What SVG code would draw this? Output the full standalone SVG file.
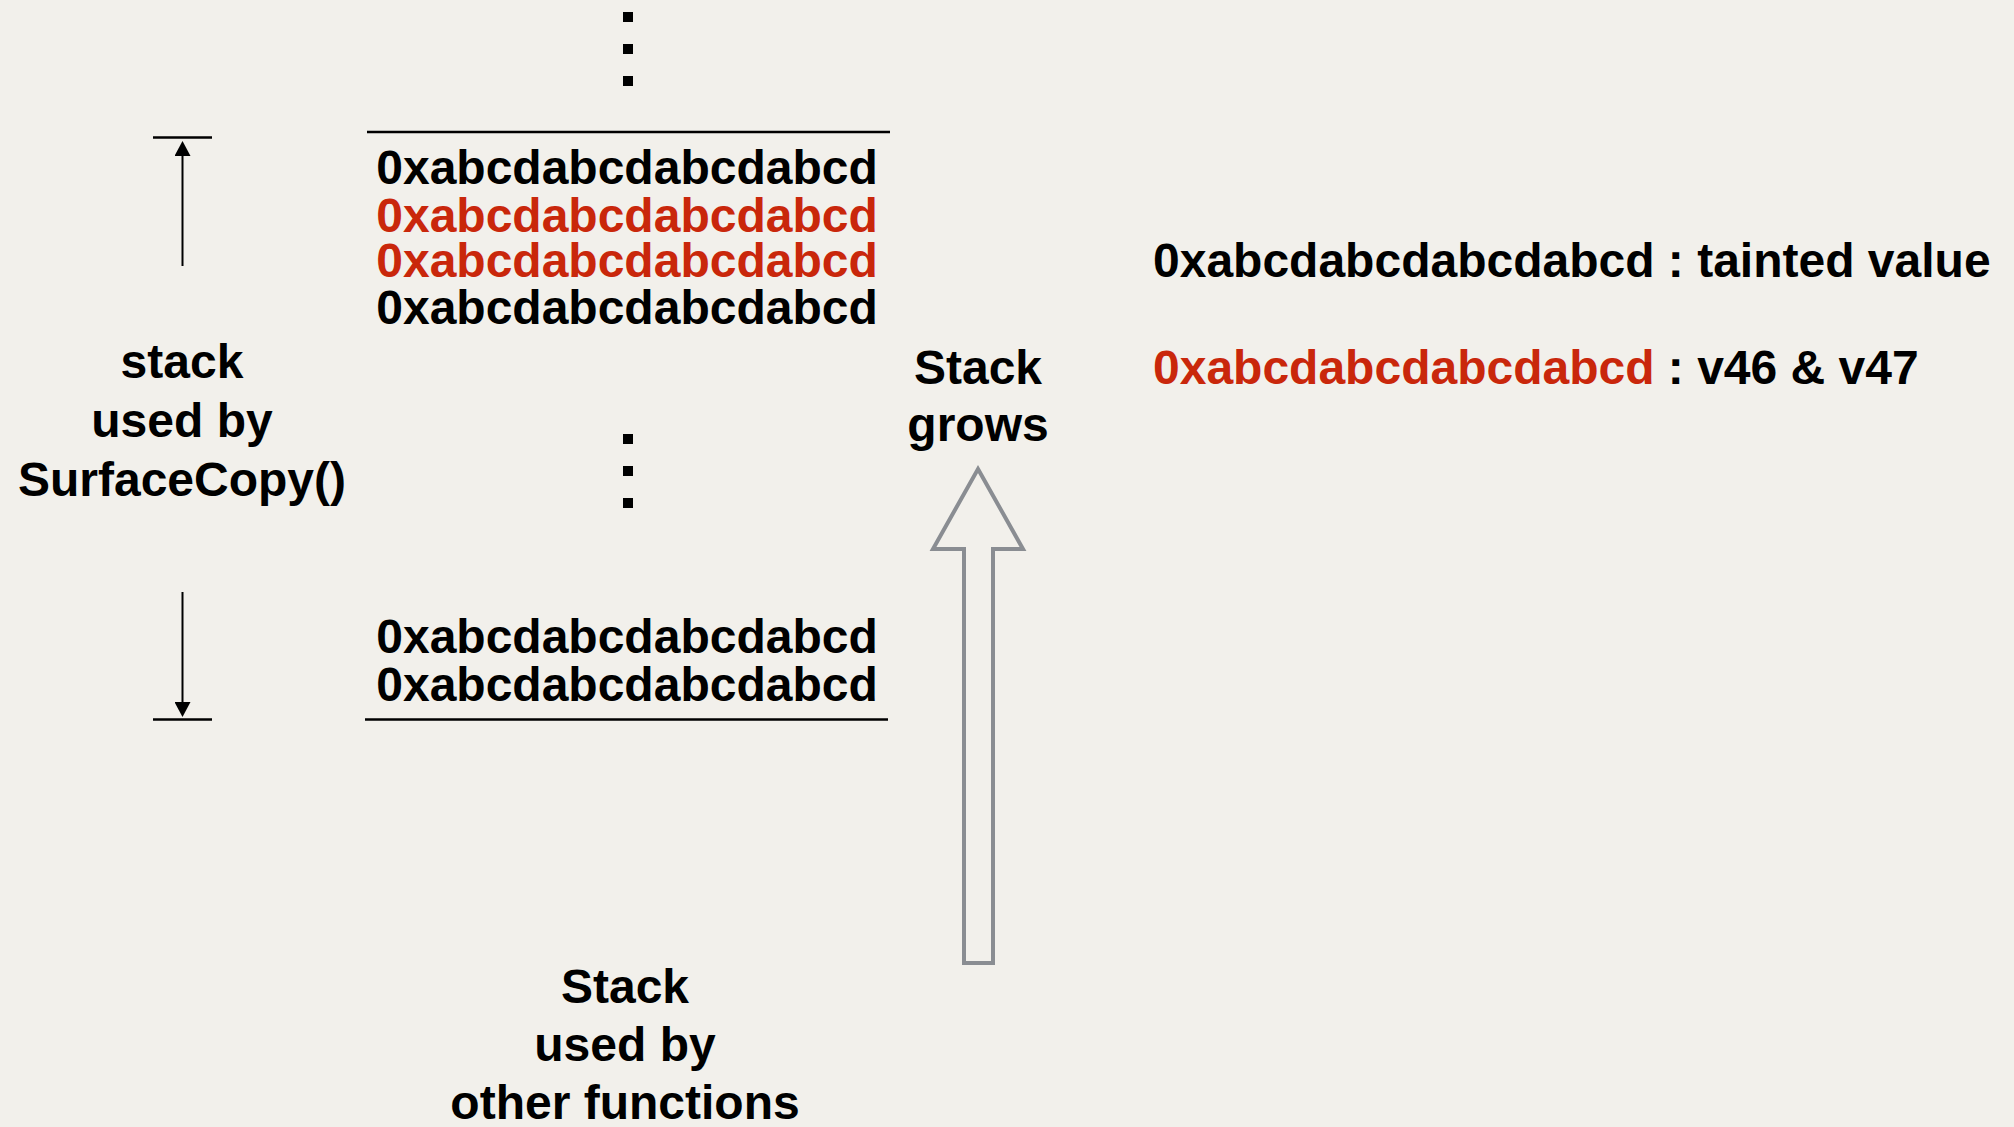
<svg xmlns="http://www.w3.org/2000/svg" width="2014" height="1127" viewBox="0 0 2014 1127">
  <style>
    text { font-family: "Liberation Sans", Arial, Helvetica, sans-serif; font-weight: bold; font-size: 48px; fill: #000; }
    .red { fill: #c9270b; }
    .mid { text-anchor: middle; }
    .rule { stroke: #000; stroke-width: 2.6; fill: none; }
    .dim { stroke: #000; stroke-width: 2; fill: none; marker-end: url(#head); }
    .dot { fill: #000; }
  </style>
  <defs>
    <marker id="head" viewBox="0 0 16 16" refX="6" refY="8" markerWidth="16" markerHeight="16" markerUnits="userSpaceOnUse" orient="auto">
      <path d="M0,0 L15,8 L0,16 z" fill="#000"/>
    </marker>
  </defs>
  <rect x="0" y="0" width="2014" height="1127" fill="#f2f0eb"/>

  <g id="top-dots">
    <rect class="dot" x="623" y="12" width="10" height="10"/>
    <rect class="dot" x="623" y="44" width="10" height="10"/>
    <rect class="dot" x="623" y="76" width="10" height="10"/>
  </g>

  <g id="stack-frame">
    <line class="rule" x1="367" y1="132" x2="890" y2="132"/>
    <text class="mid" x="627" y="184">0xabcdabcdabcdabcd</text>
    <text class="mid red" x="627" y="232">0xabcdabcdabcdabcd</text>
    <text class="mid red" x="627" y="277">0xabcdabcdabcdabcd</text>
    <text class="mid" x="627" y="324">0xabcdabcdabcdabcd</text>
    <rect class="dot" x="623" y="434" width="10" height="10"/>
    <rect class="dot" x="623" y="466" width="10" height="10"/>
    <rect class="dot" x="623" y="498" width="10" height="10"/>
    <text class="mid" x="627" y="653">0xabcdabcdabcdabcd</text>
    <text class="mid" x="627" y="701">0xabcdabcdabcdabcd</text>
    <line class="rule" x1="365" y1="719.5" x2="888" y2="719.5"/>
  </g>

  <g id="surfacecopy-label">
    <text class="mid" x="182" y="378">stack</text>
    <text class="mid" x="182" y="437">used by</text>
    <text class="mid" x="182" y="496">SurfaceCopy()</text>
  </g>

  <g id="other-label">
    <text class="mid" x="625" y="1003">Stack</text>
    <text class="mid" x="625" y="1061">used by</text>
    <text class="mid" x="625" y="1119">other functions</text>
  </g>

  <g id="grows-label">
    <text class="mid" x="978" y="384">Stack</text>
    <text class="mid" x="978" y="441">grows</text>
  </g>

  <g id="legend">
    <text x="1153" y="277">0xabcdabcdabcdabcd : tainted value</text>
    <text x="1153" y="384"><tspan class="red">0xabcdabcdabcdabcd</tspan> : v46 &amp; v47</text>
  </g>

  <g id="connectors">
    <line class="rule" x1="153" y1="137.5" x2="212" y2="137.5"/>
    <line class="dim" x1="182.5" y1="266" x2="182.5" y2="150"/>
    <line class="rule" x1="153" y1="719.5" x2="212" y2="719.5"/>
    <line class="dim" x1="182.5" y1="592" x2="182.5" y2="708"/>
    <polygon id="grow-arrow" points="978,469 1023,549 993,549 993,963 964,963 964,549 933,549" fill="none" stroke="#8a8d92" stroke-width="4" stroke-linejoin="miter"/>
  </g>
</svg>
